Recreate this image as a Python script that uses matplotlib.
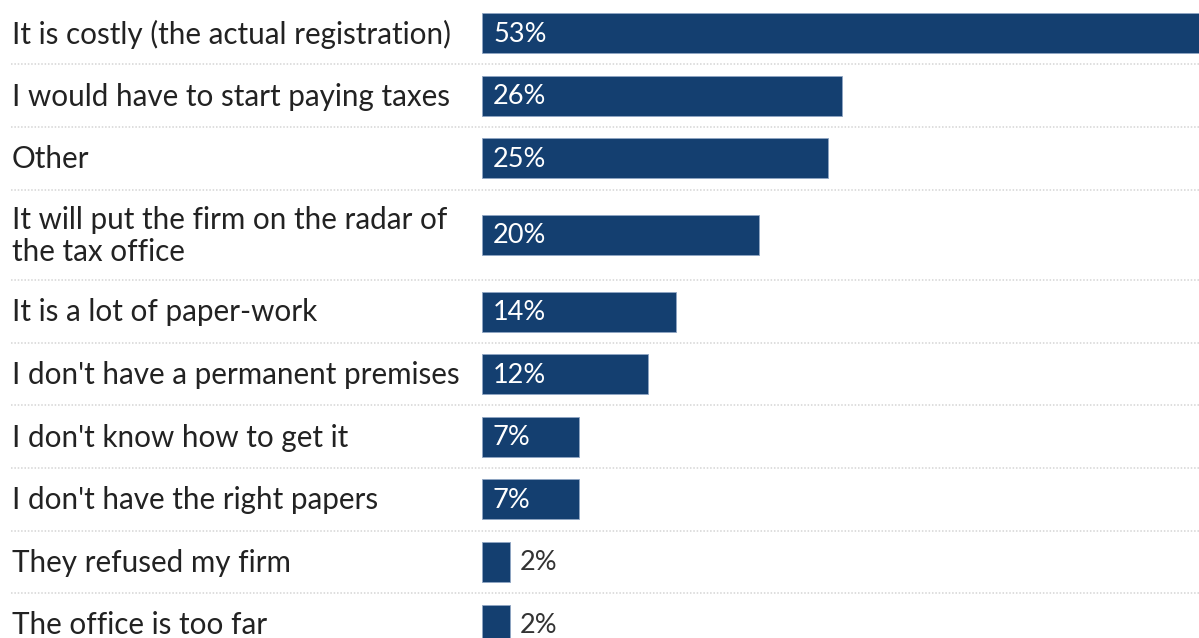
import matplotlib.pyplot as plt
from matplotlib.transforms import blended_transform_factory

reasons = [
    "It is costly (the actual registration)",
    "I would have to start paying taxes",
    "Other",
    "It will put the firm on the radar of\nthe tax office",
    "It is a lot of paper-work",
    "I don't have a permanent premises",
    "I don't know how to get it",
    "I don't have the right papers",
    "They refused my firm",
    "The office is too far",
]
shares = [53, 26, 25, 20, 14, 12, 7, 7, 2, 2]

plt.rcParams["font.family"] = ["Lato", "DejaVu Sans"]

W, H = 1199, 638
BAR_COLOR = "#143f70"

fig = plt.figure(figsize=(W / 100, H / 100), dpi=100)
ax = fig.add_axes([0, 0, 1, 1])
ax.axis("off")

# x axis in percent, with zero sitting at the bar start column
px_per_pct = 13.85
bar_left = 482
ax.set_xlim(-bar_left / px_per_pct, (W - bar_left) / px_per_pct)
ax.set_ylim(H, 0)

# row heights in pixels, wrapped labels get a taller row
row_h, extra_line = 62.6, 28.1
y = 1.7
centers, seps = [], []
for r in reasons:
    h = row_h + extra_line * r.count("\n")
    centers.append(y + h / 2)
    y += h
    seps.append(y)

ax.barh(centers, shares, height=40, left=0, color=BAR_COLOR,
        edgecolor="#8fa6c4", linewidth=0.6)

label_tr = blended_transform_factory(fig.transFigure, ax.transData)
for name, c in zip(reasons, centers):
    ax.text(12 / W, c + 1, name, transform=label_tr, ha="left", va="center",
            fontsize=21.3, color="#222222", linespacing=1.2)

for v, c in zip(shares, centers):
    if v >= 5:
        ax.text(11 / px_per_pct, c + 1, f"{v}%", ha="left", va="center",
                fontsize=19.5, color="white")
    else:
        ax.text(v + 10 / px_per_pct, c + 1, f"{v}%", ha="left", va="center",
                fontsize=19.5, color="#333333")

for s in seps[:-1]:
    ax.plot([11 / W, 1], [s, s], transform=label_tr, color="#d4d4d4",
            linestyle=(0, (1, 1.2)), linewidth=1.1)

fig.savefig("out.png", dpi=100)
